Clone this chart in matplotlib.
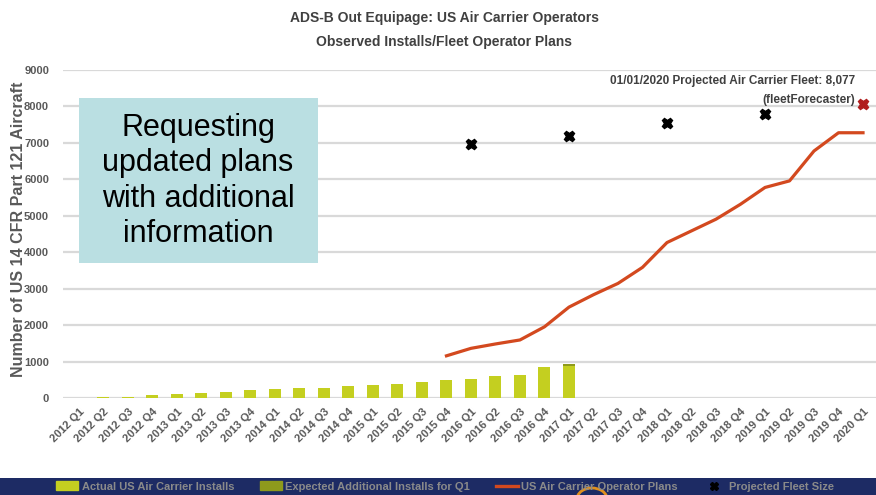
import matplotlib
matplotlib.use("Agg")
import matplotlib.pyplot as plt
from matplotlib.patches import Rectangle, Patch, Arc
from matplotlib.lines import Line2D
import numpy as np

quarters = ["2012 Q1", "2012 Q2", "2012 Q3", "2012 Q4",
            "2013 Q1", "2013 Q2", "2013 Q3", "2013 Q4",
            "2014 Q1", "2014 Q2", "2014 Q3", "2014 Q4",
            "2015 Q1", "2015 Q2", "2015 Q3", "2015 Q4",
            "2016 Q1", "2016 Q2", "2016 Q3", "2016 Q4",
            "2017 Q1", "2017 Q2", "2017 Q3", "2017 Q4",
            "2018 Q1", "2018 Q2", "2018 Q3", "2018 Q4",
            "2019 Q1", "2019 Q2", "2019 Q3", "2019 Q4",
            "2020 Q1"]

# actual installs, 2012 Q1 .. 2017 Q1
actual_installs = [0, 45, 50, 80, 115, 150, 185, 225, 260, 290, 290, 330,
                   360, 385, 435, 500, 537, 603, 638, 849, 895]
expected_q1 = 55          # on top of 2017 Q1

# operator plans, 2015 Q4 .. 2020 Q1
plan_start = "2015 Q4"
operator_plans = [1165, 1370, 1490, 1600, 1960, 2500, 2840, 3150, 3590,
                  4270, 4590, 4910, 5320, 5780, 5960, 6780, 7280, 7280]

fleet_quarters = ["2016 Q1", "2017 Q1", "2018 Q1", "2019 Q1"]
fleet_size = [6970, 7190, 7560, 7790]
forecast_quarter = "2020 Q1"
forecast_fleet = 8077

font = ["Liberation Sans", "DejaVu Sans"]
grey = "#595959"

fig = plt.figure(figsize=(8.76, 4.95), dpi=100)
ax = fig.add_axes([0.0719, 0.1953, 0.9281, 0.6633])

x = np.arange(len(quarters))
ax.bar(x[:len(actual_installs)], actual_installs, width=0.49, color="#c4cf20", zorder=2)
ax.bar(x[len(actual_installs) - 1], expected_q1, bottom=actual_installs[-1], width=0.49,
       color="#8e9a1c", zorder=2)

i0 = quarters.index(plan_start)
ax.plot(x[i0:i0 + len(operator_plans)], operator_plans, color="#d3491f", lw=2.3, zorder=3)

fx = [quarters.index(q) for q in fleet_quarters]
ax.plot(fx, fleet_size, ls="none", marker="X", ms=7.5, color="black", zorder=4)
ax.plot(quarters.index(forecast_quarter), forecast_fleet, ls="none", marker="X", ms=7.5,
        color="#b01e1e", zorder=4)

ax.text(31.67, 8700, "01/01/2020 Projected Air Carrier Fleet: 8,077",
        ha="right", va="center", fontsize=8.5, fontweight="bold", color="#404040", family=font)
ax.text(31.67, 8180, "(fleetForecaster)",
        ha="right", va="center", fontsize=8.5, fontweight="bold", color="#404040", family=font)

ax.set_xlim(-0.65, 32.53)
ax.set_ylim(0, 9000)
ax.set_yticks(np.arange(0, 9001, 1000))
ax.yaxis.grid(True, color="#d9d9d9", lw=1.6, zorder=0)
ax.set_axisbelow(True)
for s in ax.spines.values():
    s.set_visible(False)
ax.tick_params(length=0)
ax.set_xticks(x)
ax.set_xticklabels(quarters, rotation=45, ha="right", rotation_mode="anchor",
                   fontsize=8, fontweight="bold", color=grey, family=font)
for lab in ax.get_yticklabels():
    lab.set_fontsize(8)
    lab.set_fontweight("bold")
    lab.set_color(grey)
    lab.set_family(font)
ax.tick_params(axis="y", pad=10)
ax.tick_params(axis="x", pad=6)

ax.set_ylabel("Number of US 14 CFR Part 121 Aircraft", fontsize=11.5, fontweight="bold",
              color=grey, family=font)
ax.yaxis.set_label_coords(-0.046, 0.515)

fig.text(0.507, 0.963, "ADS-B Out Equipage: US Air Carrier Operators",
         ha="center", va="center", fontsize=10, fontweight="bold", color="#404040", family=font)
fig.text(0.507, 0.915, "Observed Installs/Fleet Operator Plans",
         ha="center", va="center", fontsize=10, fontweight="bold", color="#404040", family=font)

# callout box
fig.patches.append(Rectangle((79 / 876, 1 - 263 / 495), (318 - 79) / 876, (263 - 98) / 495,
                             transform=fig.transFigure, facecolor="#badfe2", edgecolor="none",
                             zorder=5))
fig.text(198 / 876, 1 - 181 / 495, "Requesting\nupdated plans\nwith additional\ninformation",
         ha="center", va="center", fontsize=22, color="black", family=font,
         linespacing=1.24, zorder=6)

# navy legend band
fig.patches.append(Rectangle((0, 0), 1, 17 / 495, transform=fig.transFigure,
                             facecolor="#1d2b64", edgecolor="none", zorder=1))
fig.patches.append(Arc((592 / 876, -4 / 495), 30 / 876, 22 / 495, theta1=15, theta2=165,
                       transform=fig.transFigure, color="#e0901e", lw=2, zorder=2))
handles = [Patch(color="#c4cf20"), Patch(color="#8e9a1c"),
           Line2D([], [], color="#d3491f", lw=2.4),
           Line2D([], [], ls="none", marker="X", ms=6, color="black")]
labels = ["Actual US Air Carrier Installs", "Expected Additional Installs for Q1",
          "US Air Carrier Operator Plans", "Projected Fleet Size"]
leg = fig.legend(handles, labels, loc="center", bbox_to_anchor=(0.508, 8.5 / 495), ncol=4,
                 frameon=False, handlelength=2.0, handleheight=0.8, columnspacing=2.3,
                 handletextpad=0.3, prop={"family": font, "weight": "bold", "size": 8})
for t in leg.get_texts():
    t.set_color("#8a8a8a")

fig.savefig("out.png", dpi=100)
